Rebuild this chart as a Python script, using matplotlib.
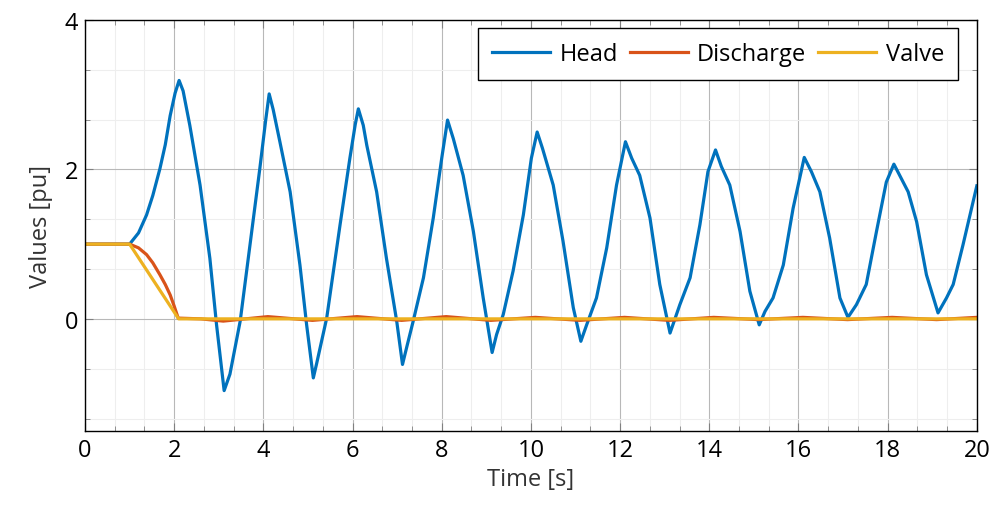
import matplotlib
matplotlib.use("Agg")
import matplotlib.pyplot as plt
from matplotlib.ticker import MultipleLocator, AutoMinorLocator

# values
head_t = [0.0, 1.0, 1.2, 1.38, 1.52, 1.68, 1.80, 1.91, 2.02, 2.11, 2.20, 2.35, 2.58, 2.80, 2.95, 3.12,
          3.25, 3.48, 3.70, 3.92, 4.05, 4.13, 4.22, 4.37, 4.60, 4.82, 4.97, 5.12,
          5.19, 5.42, 5.72, 5.94, 6.06, 6.13, 6.24, 6.32, 6.54, 6.76, 6.99, 7.12,
          7.21, 7.36, 7.59, 7.81, 8.00, 8.13, 8.26, 8.48, 8.71, 8.93, 9.13,
          9.23, 9.38, 9.60, 9.83, 10.01, 10.14, 10.26, 10.50, 10.72, 10.95, 11.12,
          11.25, 11.47, 11.70, 11.92, 12.12, 12.26, 12.44, 12.67, 12.89, 13.12,
          13.34, 13.57, 13.79, 13.97, 14.14, 14.27, 14.46, 14.69, 14.91, 15.12,
          15.25, 15.43, 15.66, 15.88, 16.13, 16.29, 16.48, 16.70, 16.93, 17.11,
          17.30, 17.52, 17.75, 17.97, 18.14, 18.27, 18.46, 18.65, 18.87, 19.13,
          19.32, 19.47, 19.69, 20.0]
head = [1.0, 1.0, 1.15, 1.39, 1.65, 2.01, 2.33, 2.72, 3.02, 3.19, 3.05, 2.59, 1.79, 0.81, -0.08, -0.96,
        -0.74, -0.03, 0.99, 2.01, 2.65, 3.01, 2.80, 2.37, 1.70, 0.72, -0.08, -0.79,
        -0.61, 0.01, 1.26, 2.15, 2.60, 2.81, 2.59, 2.32, 1.70, 0.81, -0.03, -0.61,
        -0.39, -0.03, 0.55, 1.35, 2.15, 2.66, 2.41, 1.92, 1.17, 0.28, -0.45,
        -0.21, 0.06, 0.64, 1.39, 2.15, 2.50, 2.28, 1.79, 1.04, 0.15, -0.30,
        -0.08, 0.28, 0.95, 1.79, 2.37, 2.15, 1.92, 1.35, 0.46, -0.19,
        0.19, 0.55, 1.26, 1.97, 2.26, 2.04, 1.79, 1.17, 0.37, -0.08,
        0.10, 0.28, 0.72, 1.48, 2.16, 1.97, 1.70, 1.08, 0.28, 0.02,
        0.19, 0.46, 1.17, 1.83, 2.07, 1.92, 1.70, 1.30, 0.59, 0.08,
        0.28, 0.46, 0.99, 1.78]

discharge_t = [0.0, 1.0, 1.2, 1.38, 1.52, 1.68, 1.80, 1.91, 2.0, 2.09, 2.6, 3.1, 4.1, 5.1, 6.1, 7.1,
               8.1, 9.1, 10.1, 11.1, 12.1, 13.1, 14.1, 15.1, 16.1, 17.1, 18.1, 19.1, 20.0]
discharge = [1.0, 1.0, 0.95, 0.86, 0.75, 0.59, 0.46, 0.32, 0.17, 0.01, 0.0, -0.03, 0.03, -0.02, 0.03, -0.02,
             0.03, -0.02, 0.02, -0.02, 0.02, -0.02, 0.02, -0.01, 0.02, -0.01, 0.02, -0.01, 0.02]

valve_t = [0.0, 1.0, 2.1, 20.0]
valve = [1.0, 1.0, 0.0, 0.0]

plt.rcParams['font.family'] = ['Open Sans', 'DejaVu Sans']
plt.rcParams['font.size'] = 17

fig = plt.figure(figsize=(9.92, 5.10), dpi=100)
ax = fig.add_axes([0.0857, 0.153, 0.899, 0.806])

ax.plot(head_t, head, color='#0072BD', lw=2.3, label='Head')
ax.plot(discharge_t, discharge, color='#D95319', lw=2.3, label='Discharge')
ax.plot(valve_t, valve, color='#EDB120', lw=2.3, label='Valve')

ax.set_xlim(0, 20)
ax.set_ylim(-1.5, 4)
ax.xaxis.set_major_locator(MultipleLocator(2))
ax.yaxis.set_major_locator(MultipleLocator(2))
ax.xaxis.set_minor_locator(AutoMinorLocator(3))
ax.yaxis.set_minor_locator(AutoMinorLocator(3))
ax.grid(which='major', color='#b8b8b8', lw=0.8)
ax.grid(which='minor', color='#eeeeee', lw=0.8)
ax.set_axisbelow(True)
ax.tick_params(which='both', direction='in', top=True, right=True, color='#808080')
ax.tick_params(which='major', length=6, labelsize=17, pad=5)
ax.tick_params(which='minor', length=3.5)
for s in ax.spines.values():
    s.set_linewidth(1.0)

ax.set_xlabel('Time [s]', fontsize=17, color='#333333', labelpad=4)
ax.set_ylabel('Values [pu]', fontsize=17, color='#333333', labelpad=8)

leg = ax.legend(loc='upper right', bbox_to_anchor=(0.979, 0.981), ncol=3, fancybox=False,
                edgecolor='black', framealpha=1, fontsize=17, handlelength=2.45,
                handletextpad=0.4, columnspacing=0.5, borderaxespad=0.0, borderpad=0.6)
leg.get_frame().set_linewidth(1.0)

fig.savefig('out.png', dpi=100)
